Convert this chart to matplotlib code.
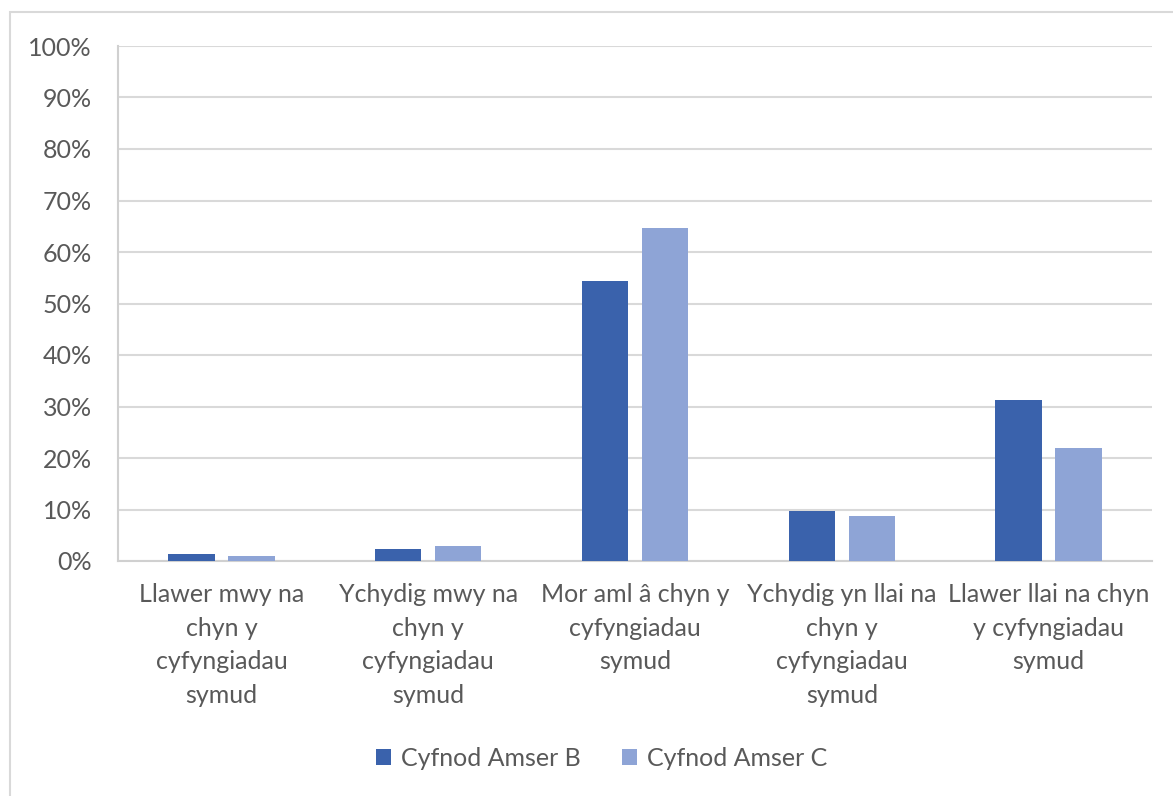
import numpy as np
import matplotlib
matplotlib.use('Agg')
import matplotlib.pyplot as plt
from matplotlib.patches import Rectangle

plt.rcParams['font.family'] = ['Lato', 'DejaVu Sans']

categories = [
    'Llawer mwy na\nchyn y\ncyfyngiadau\nsymud',
    'Ychydig mwy na\nchyn y\ncyfyngiadau\nsymud',
    'Mor aml â chyn y\ncyfyngiadau\nsymud',
    'Ychydig yn llai na\nchyn y\ncyfyngiadau\nsymud',
    'Llawer llai na chyn\ny cyfyngiadau\nsymud',
]
series_names = ['Cyfnod Amser B', 'Cyfnod Amser C']
amser_b = [1.4, 2.4, 54.3, 9.8, 31.2]
amser_c = [1.0, 3.0, 64.7, 8.7, 22.0]
y_ticks = [0, 10, 20, 30, 40, 50, 60, 70, 80, 90, 100]

col_b = '#3A62AC'
col_c = '#8EA4D6'
grey_text = '#595959'
grid_col = '#D9D9D9'

fig = plt.figure(figsize=(11.73, 7.96), dpi=100)
# outer chart frame
fig.patches.append(Rectangle((10 / 1173, -0.05), 1.1, 1 - 12 / 796 + 0.05,
                             transform=fig.transFigure, fill=False,
                             edgecolor='#D9D9D9', linewidth=1.5))

ax = fig.add_axes([118 / 1173, 1 - 561 / 796, (1152 - 118) / 1173, (561 - 46) / 796])

x = np.arange(len(categories))
w = 0.225
ax.bar(x - 0.145, amser_b, w, color=col_b, label=series_names[0], zorder=3)
ax.bar(x + 0.145, amser_c, w, color=col_c, label=series_names[1], zorder=3)

ax.set_xlim(-0.5, len(categories) - 0.5)
ax.set_ylim(0, 100)
ax.set_yticks(y_ticks)
ax.set_yticklabels([f'{t}%' for t in y_ticks])
ax.yaxis.grid(True, color=grid_col, linewidth=1.5, zorder=0)
ax.set_xticks(x)
ax.set_xticklabels(categories, linespacing=1.55)
ax.tick_params(axis='both', length=0, labelsize=18, colors=grey_text)
ax.tick_params(axis='x', pad=16)
ax.tick_params(axis='y', pad=19)

for side in ['top', 'right']:
    ax.spines[side].set_visible(False)
for side in ['left', 'bottom']:
    ax.spines[side].set_color('#D0D0D0')
    ax.spines[side].set_linewidth(1.5)

fig.legend(loc='center', bbox_to_anchor=(602 / 1173, 1 - 758 / 796), ncol=2,
           frameon=False, fontsize=18, labelcolor=grey_text,
           handlelength=0.6, handleheight=0.6, handletextpad=0.4, columnspacing=1.65)

fig.savefig('out.png', dpi=100)
